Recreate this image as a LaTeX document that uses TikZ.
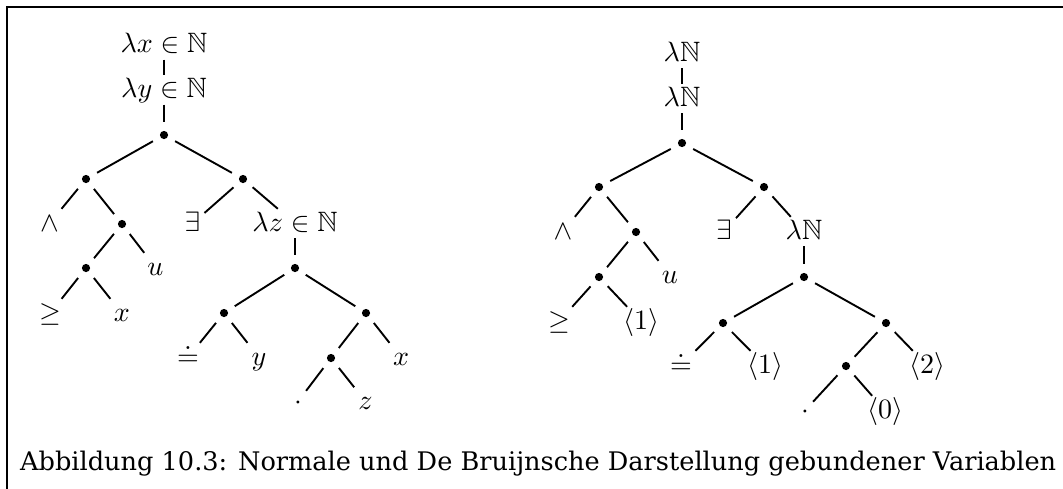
\documentclass[tikz,border=0pt]{standalone}
\usepackage{amssymb}
\usepackage{fontspec}
\newfontfamily\capfont{DejaVu Serif}
% formulas are set at 10pt and enlarged, so every glyph scales smoothly
\newcommand\bigmath[1]{\scalebox{2.8}{$#1$}}
\begin{document}
\begin{tikzpicture}[x=1pt, y=-1pt,
  lbl/.style={anchor=base, inner sep=4pt, text height=18pt, text depth=3pt},
  bullet/.style={circle, minimum size=25pt, inner sep=0pt,
              path picture={\fill (path picture bounding box.center) circle (4.1pt);}},
  branch/.style={line width=1.9pt},
  frameline/.style={line width=2.3pt}]
\useasboundingbox (0,0) rectangle (1063,488);

% open frame: top and left rules
\draw[frameline] (7.2,490) -- (7.2,7.2) -- (1065,7.2);

% ---------- tree with named variables ----------
\node[lbl] (Lx) at (164,52.3) {\bigmath{\lambda x\in\mathbb{N}}};
\node[lbl] (Ly) at (164,97.3) {\bigmath{\lambda y\in\mathbb{N}}};
\node[bullet] (L0) at (164,135) {};
\node[bullet] (L1) at (86,179) {};
\node[bullet] (L2) at (243,179) {};
\node[lbl] (Land) at (49.5,231) {\bigmath{\wedge}};
\node[bullet] (L11) at (122,224) {};
\node[lbl] (Lex) at (192.5,231) {\bigmath{\exists}};
\node[lbl] (Lz) at (295,231) {\bigmath{\lambda z\in\mathbb{N}}};
\node[bullet] (L111) at (86,268) {};
\node[lbl] (Lu) at (155.5,275) {\bigmath{u}};
\node[bullet] (L22) at (295,268) {};
\node[lbl] (Lgeq) at (50,321) {\bigmath{\geq}};
\node[lbl] (Lx1) at (122,321) {\bigmath{x}};
\node[bullet] (L221) at (224,313) {};
\node[bullet] (L222) at (366,313) {};
\node[lbl] (Ldoteq) at (188,365) {\bigmath{\doteq}};
\node[lbl] (Lyy) at (259,365) {\bigmath{y}};
\node[bullet] (L2221) at (331,358) {};
\node[lbl] (Lx2) at (401,365) {\bigmath{x}};
\node[lbl] (Lcdot) at (298,409) {\bigmath{\cdot}};
\node[lbl] (Lzz) at (365.5,409) {\bigmath{z}};

\draw[branch] (Lx) -- (Ly);
\draw[branch] (Ly) -- (L0);
\draw[branch] (L0) -- (L1);
\draw[branch] (L0) -- (L2);
\draw[branch] (L1) -- (Land);
\draw[branch] (L1) -- (L11);
\draw[branch] (L11) -- (L111);
\draw[branch] (L11) -- (Lu);
\draw[branch] (L111) -- (Lgeq);
\draw[branch] (L111) -- (Lx1);
\draw[branch] (L2) -- (Lex);
\draw[branch] (L2) -- (Lz);
\draw[branch] (Lz) -- (L22);
\draw[branch] (L22) -- (L221);
\draw[branch] (L22) -- (L222);
\draw[branch] (L221) -- (Ldoteq);
\draw[branch] (L221) -- (Lyy);
\draw[branch] (L222) -- (L2221);
\draw[branch] (L222) -- (Lx2);
\draw[branch] (L2221) -- (Lcdot);
\draw[branch] (L2221) -- (Lzz);

% ---------- tree with De Bruijn indices ----------
\node[lbl] (Ra) at (682,61) {\bigmath{\lambda\mathbb{N}}};
\node[lbl] (Rb) at (682,106) {\bigmath{\lambda\mathbb{N}}};
\node[bullet] (R0) at (682,143) {};
\node[bullet] (R1) at (599,187) {};
\node[bullet] (R2) at (764,187) {};
\node[lbl] (Rand) at (563,239) {\bigmath{\wedge}};
\node[bullet] (R11) at (636,232) {};
\node[lbl] (Rex) at (724,239) {\bigmath{\exists}};
\node[lbl] (Rlz) at (804,239) {\bigmath{\lambda\mathbb{N}}};
\node[bullet] (R111) at (599,277) {};
\node[lbl] (Ru) at (670,283) {\bigmath{u}};
\node[bullet] (R22) at (804,277) {};
\node[lbl] (Rgeq) at (559,329) {\bigmath{\geq}};
\node[lbl] (Ri1) at (641,329) {\bigmath{\langle 1\rangle}};
\node[bullet] (R221) at (723,323) {};
\node[bullet] (R222) at (886,323) {};
\node[lbl] (Rdoteq) at (681,373) {\bigmath{\doteq}};
\node[lbl] (Ri1b) at (765,373) {\bigmath{\langle 1\rangle}};
\node[bullet] (R2221) at (846,366) {};
\node[lbl] (Ri2) at (927,373) {\bigmath{\langle 2\rangle}};
\node[lbl] (Rcdot) at (805,418) {\bigmath{\cdot}};
\node[lbl] (Ri0) at (885,418) {\bigmath{\langle 0\rangle}};

\draw[branch] (Ra) -- (Rb);
\draw[branch] (Rb) -- (R0);
\draw[branch] (R0) -- (R1);
\draw[branch] (R0) -- (R2);
\draw[branch] (R1) -- (Rand);
\draw[branch] (R1) -- (R11);
\draw[branch] (R11) -- (R111);
\draw[branch] (R11) -- (Ru);
\draw[branch] (R111) -- (Rgeq);
\draw[branch] (R111) -- (Ri1);
\draw[branch] (R2) -- (Rex);
\draw[branch] (R2) -- (Rlz);
\draw[branch] (Rlz) -- (R22);
\draw[branch] (R22) -- (R221);
\draw[branch] (R22) -- (R222);
\draw[branch] (R221) -- (Rdoteq);
\draw[branch] (R221) -- (Ri1b);
\draw[branch] (R222) -- (R2221);
\draw[branch] (R222) -- (Ri2);
\draw[branch] (R2221) -- (Rcdot);
\draw[branch] (R2221) -- (Ri0);

% ---------- caption ----------
\node[anchor=base west, inner sep=0pt, font=\capfont\fontsize{25.6}{30}\selectfont]
  (cap) at (20,470) {Abbildung 10.3: Normale und De Bruijnsche Darstellung gebundener Variablen};
\end{tikzpicture}
\end{document}
